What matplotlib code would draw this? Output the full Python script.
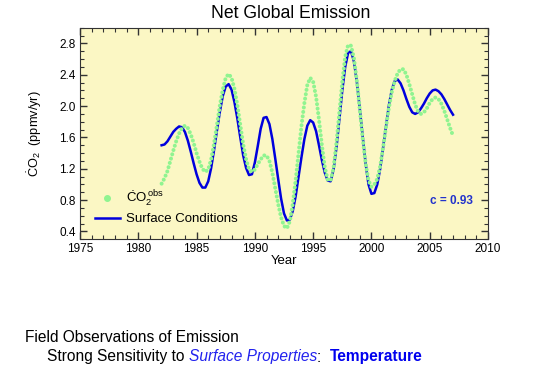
import matplotlib
matplotlib.use("Agg")
import matplotlib.pyplot as plt
from matplotlib.lines import Line2D
from matplotlib.ticker import MultipleLocator

plt.rcParams["font.family"] = ["Liberation Sans", "DejaVu Sans"]
plt.rcParams["mathtext.fontset"] = "custom"
plt.rcParams["mathtext.rm"] = "Liberation Sans"
plt.rcParams["mathtext.it"] = "Liberation Sans:italic"

# quarterly samples, 1982.00 .. 2007.00
years = [1982 + 0.25 * i for i in range(101)]

surface = [
    1.50, 1.51, 1.55, 1.61,  # 1982
    1.67, 1.71, 1.74, 1.73,  # 1983
    1.67, 1.56, 1.42, 1.27,  # 1984
    1.13, 1.02, 0.96, 0.96,  # 1985
    1.04, 1.21, 1.44, 1.69,  # 1986
    1.93, 2.13, 2.25, 2.28,  # 1987
    2.21, 2.05, 1.84, 1.60,  # 1988
    1.37, 1.21, 1.12, 1.13,  # 1989
    1.28, 1.49, 1.71, 1.85,  # 1990
    1.86, 1.77, 1.58, 1.33,  # 1991
    1.07, 0.82, 0.63, 0.54,  # 1992
    0.55, 0.66, 0.85, 1.10,  # 1993
    1.35, 1.58, 1.75, 1.82,  # 1994
    1.79, 1.68, 1.50, 1.31,  # 1995
    1.15, 1.05, 1.04, 1.19,  # 1996
    1.47, 1.83, 2.20, 2.50,  # 1997
    2.68, 2.70, 2.57, 2.31,  # 1998
    1.97, 1.61, 1.27, 1.00,  # 1999
    0.88, 0.89, 1.00, 1.20,  # 2000
    1.47, 1.74, 2.01, 2.21,  # 2001
    2.32, 2.34, 2.29, 2.20,  # 2002
    2.09, 1.99, 1.92, 1.90,  # 2003
    1.92, 1.97, 2.03, 2.10,  # 2004
    2.16, 2.20, 2.21, 2.19,  # 2005
    2.15, 2.09, 2.02, 1.95,  # 2006
    1.89,                    # 2007
]

co2_obs = [
    1.01, 1.08, 1.17, 1.30,  # 1982
    1.43, 1.55, 1.65, 1.72,  # 1983
    1.75, 1.72, 1.64, 1.53,  # 1984
    1.40, 1.29, 1.20, 1.16,  # 1985
    1.19, 1.32, 1.52, 1.76,  # 1986
    2.01, 2.21, 2.36, 2.41,  # 1987
    2.36, 2.22, 2.01, 1.76,  # 1988
    1.51, 1.32, 1.19, 1.16,  # 1989
    1.19, 1.26, 1.32, 1.37,  # 1990
    1.37, 1.30, 1.15, 0.95,  # 1991
    0.75, 0.58, 0.47, 0.44,  # 1992
    0.53, 0.75, 1.05, 1.40,  # 1993
    1.75, 2.04, 2.27, 2.36,  # 1994
    2.31, 2.12, 1.83, 1.50,  # 1995
    1.22, 1.06, 1.05, 1.21,  # 1996
    1.53, 1.92, 2.31, 2.63,  # 1997
    2.78, 2.77, 2.61, 2.32,  # 1998
    1.96, 1.59, 1.27, 1.05,  # 1999
    0.97, 1.00, 1.07, 1.23,  # 2000
    1.47, 1.73, 1.98, 2.18,  # 2001
    2.32, 2.42, 2.47, 2.47,  # 2002
    2.40, 2.28, 2.15, 2.02,  # 2003
    1.93, 1.90, 1.92, 1.97,  # 2004
    2.04, 2.09, 2.11, 2.09,  # 2005
    2.03, 1.94, 1.83, 1.72,  # 2006
    1.62,                    # 2007
]

GREEN = "#90f490"
BLUE = "#0000dd"

fig = plt.figure(figsize=(5.4, 3.88), dpi=100)
ax = fig.add_axes([80 / 540, 1 - 239.3 / 388, 408 / 540, 211.6 / 388])
ax.set_facecolor("#fbf7c4")

ax.plot(years, surface, color=BLUE, lw=1.8, zorder=2)
ax.plot(years, co2_obs, color=GREEN, lw=2.9, ls=(0, (0.01, 1.1)),
        dash_capstyle="round", zorder=3)

ax.set_xlim(1975, 2010)
ax.set_ylim(0.3, 3.0)
ax.xaxis.set_major_locator(MultipleLocator(5))
ax.xaxis.set_minor_locator(MultipleLocator(1))
ax.yaxis.set_major_locator(MultipleLocator(0.4))
ax.yaxis.set_minor_locator(MultipleLocator(0.1))
ax.yaxis.set_major_formatter(lambda v, p: f"{v:.1f}")
ax.tick_params(which="both", direction="in", top=True, right=True,
               color="#333333", labelsize=8.5, pad=3)
ax.tick_params(which="major", length=5, width=1)
ax.tick_params(which="minor", length=3, width=0.8)
for s in ax.spines.values():
    s.set_color("#333333")

ax.set_xlabel("Year", fontsize=9.5, labelpad=0)
ax.set_ylabel(r"$\dot{\mathrm{C}}\mathrm{O}_2$  (ppmv/yr)", fontsize=9.2,
              labelpad=11)

handles = [
    Line2D([], [], color=GREEN, marker="o", ls="none", ms=4),
    Line2D([], [], color=BLUE, lw=1.8),
]
labels = [r"$\dot{\mathrm{C}}\mathrm{O}_2^{\,\mathrm{obs}}$", "Surface Conditions"]
ax.legend(handles, labels, loc="lower left", bbox_to_anchor=(0.02, 0.035),
          frameon=False, fontsize=9.5, handlelength=1.9, handletextpad=0.5,
          borderpad=0, labelspacing=0.35)

ax.text(0.962, 0.18, "c = 0.93", transform=ax.transAxes, ha="right",
        va="center", color="#2233cc", fontsize=8.5, fontweight="bold")

fig.text(291 / 540, 1 - 13 / 388, "Net Global Emission", ha="center",
         va="center", fontsize=12.7)

t1 = fig.text(25 / 540, 1 - 338 / 388, "Field Observations of Emission",
              ha="left", va="center", fontsize=11.2)
t2 = fig.text(47 / 540, 1 - 357 / 388, "Strong Sensitivity to ",
              ha="left", va="center", fontsize=11.2)
t3 = ax.annotate("Surface Properties", xycoords=t2, xy=(1, 0), va="bottom",
                 fontsize=11.2, style="italic", color="#2222ee",
                 annotation_clip=False)
t4 = ax.annotate(":  ", xycoords=t3, xy=(1, 0), va="bottom", fontsize=11.2,
                 annotation_clip=False)
ax.annotate("Temperature", xycoords=t4, xy=(1, 0), va="bottom", fontsize=11.2,
            fontweight="bold", color="#0000ee", annotation_clip=False)

fig.savefig("out.png", dpi=100)
